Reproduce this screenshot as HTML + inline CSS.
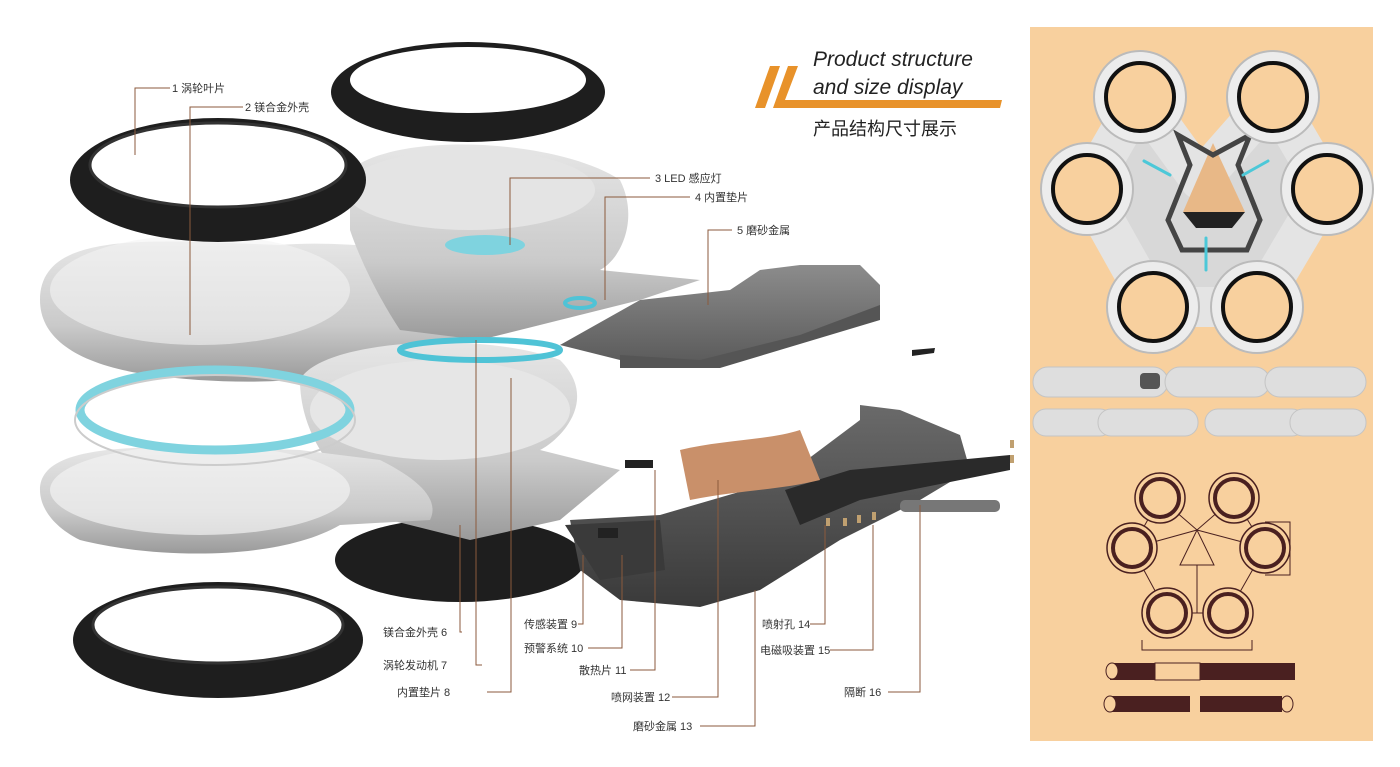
<!DOCTYPE html>
<html><head><meta charset="utf-8"><style>
html,body{margin:0;padding:0;background:#fff;width:1400px;height:767px;overflow:hidden}
svg{display:block}
text{font-family:"Liberation Sans","Noto Sans CJK SC",sans-serif;font-size:11px;fill:#333}
</style></head><body>
<svg width="1400" height="767" viewBox="0 0 1400 767" xmlns="http://www.w3.org/2000/svg">
<defs>
<linearGradient id="sil" x1="0" y1="0" x2="0" y2="1"><stop offset="0" stop-color="#e6e6e6"/><stop offset="0.6" stop-color="#cacaca"/><stop offset="1" stop-color="#9a9a9a"/></linearGradient>
<linearGradient id="dk" x1="0" y1="0" x2="0" y2="1"><stop offset="0" stop-color="#6a6a6a"/><stop offset="1" stop-color="#3a3a3a"/></linearGradient>
<linearGradient id="ds" x1="0" y1="0" x2="0" y2="1"><stop offset="0" stop-color="#8c8c8c"/><stop offset="1" stop-color="#5a5a5a"/></linearGradient>
</defs>

<rect x="1030" y="27" width="343" height="714" fill="#f8d09e"/>

<g>
<path d="M1140,97 L1200,180 L1273,97 L1327,189 L1257,307 L1153,307 L1087,189 Z" fill="#d8d8d8" stroke="#e4e4e4" stroke-width="40" stroke-linejoin="round"/>
<polygon points="1213,143 1183,212 1245,212" fill="#e8b887"/>
<polygon points="1183,212 1245,212 1232,228 1196,228" fill="#222"/>
<path d="M1178,135 L1213,155 L1250,135 L1238,165 L1260,220 L1247,250 L1182,250 L1168,220 L1190,165Z" fill="none" stroke="#444" stroke-width="5"/>
<g fill="#ececec" stroke="#bbb" stroke-width="2">
<circle cx="1140" cy="97" r="46"/><circle cx="1273" cy="97" r="46"/>
<circle cx="1087" cy="189" r="46"/><circle cx="1327" cy="189" r="46"/>
<circle cx="1153" cy="307" r="46"/><circle cx="1257" cy="307" r="46"/>
</g>
<g fill="#f8d09e" stroke="#111" stroke-width="4">
<circle cx="1140" cy="97" r="34"/><circle cx="1273" cy="97" r="34"/>
<circle cx="1087" cy="189" r="34"/><circle cx="1327" cy="189" r="34"/>
<circle cx="1153" cy="307" r="34"/><circle cx="1257" cy="307" r="34"/>
</g>
<g stroke="#4cc8d8" stroke-width="3" stroke-linecap="round">
<line x1="1144" y1="161" x2="1170" y2="175"/><line x1="1243" y1="175" x2="1268" y2="161"/><line x1="1206" y1="238" x2="1206" y2="270"/>
</g>
</g>
<g fill="#dedede" stroke="#c4c4c4">
<rect x="1033" y="367" width="135" height="30" rx="15"/><rect x="1165" y="367" width="105" height="30" rx="15"/><rect x="1265" y="367" width="101" height="30" rx="15"/>
<rect x="1033" y="409" width="80" height="27" rx="13"/><rect x="1098" y="409" width="100" height="27" rx="13"/><rect x="1205" y="409" width="100" height="27" rx="13"/><rect x="1290" y="409" width="76" height="27" rx="13"/>
</g>
<rect x="1140" y="373" width="20" height="16" rx="4" fill="#555"/>
<g stroke="#4a2020" fill="none" stroke-width="1">
<path d="M1160,498 L1132,548 L1167,613 L1228,613 L1265,548 L1234,498 L1197,530Z"/>
<polygon points="1197,530 1180,565 1214,565"/>
<line x1="1132" y1="548" x2="1197" y2="530"/><line x1="1265" y1="548" x2="1197" y2="530"/>
<line x1="1197" y1="565" x2="1197" y2="613"/>
<polyline points="1265,522 1290,522 1290,575 1265,575"/>
<polyline points="1142,640 1142,650 1252,650 1252,640"/>
</g>
<g fill="#f8d09e" stroke="#4a2020" stroke-width="1.5">
<circle cx="1160" cy="498" r="25"/><circle cx="1234" cy="498" r="25"/><circle cx="1132" cy="548" r="25"/><circle cx="1265" cy="548" r="25"/><circle cx="1167" cy="613" r="25"/><circle cx="1228" cy="613" r="25"/>
</g>
<g fill="#f8d09e" stroke="#4a2020" stroke-width="4">
<circle cx="1160" cy="498" r="19"/><circle cx="1234" cy="498" r="19"/><circle cx="1132" cy="548" r="19"/><circle cx="1265" cy="548" r="19"/><circle cx="1167" cy="613" r="19"/><circle cx="1228" cy="613" r="19"/>
</g>
<rect x="1110" y="663" width="185" height="17" fill="#4a2020"/>
<rect x="1155" y="663" width="45" height="17" fill="#f8d09e" stroke="#4a2020"/>
<ellipse cx="1112" cy="671" rx="6" ry="8" fill="#f8d09e" stroke="#4a2020"/>
<rect x="1110" y="696" width="150" height="16" fill="#4a2020"/>
<ellipse cx="1110" cy="704" rx="6" ry="8" fill="#f8d09e" stroke="#4a2020"/><ellipse cx="1287" cy="704" rx="6" ry="8" fill="#f8d09e" stroke="#4a2020"/>
<rect x="1190" y="696" width="10" height="16" fill="#f8d09e"/>
<rect x="1200" y="696" width="82" height="16" fill="#4a2020"/>

<polygon points="770,66 780,66 765,108 755,108" fill="#e8922a"/>
<polygon points="788,66 798,66 785,100 1002,100 1000,108 773,108" fill="#e8922a"/>
<text x="813" y="66" style="font-size:21px;font-style:italic;fill:#222">Product structure</text>
<text x="813" y="94" style="font-size:21px;font-style:italic;fill:#222">and size display</text>
<text x="813" y="135" style="font-size:18px;fill:#222">产品结构尺寸展示</text>

<!-- bottom center ring (behind) -->
<ellipse cx="460" cy="560" rx="125" ry="42" fill="#1e1e1e"/>

<!-- silver shells -->
<path d="M40,300 C40,230 150,240 280,245 C340,240 420,250 460,260 L640,300 L520,300 L470,340 C380,380 260,390 150,375 C80,365 40,340 40,300Z" fill="url(#sil)"/>
<ellipse cx="200" cy="290" rx="150" ry="55" fill="#f4f4f4" opacity="0.6"/>
<path d="M350,170 C400,130 560,140 620,180 C640,220 620,260 600,270 L700,280 L640,300 L560,320 L480,340 L400,330 C380,300 360,260 350,230Z" fill="url(#sil)"/>
<ellipse cx="470" cy="190" rx="125" ry="40" fill="#e4e4e4"/>
<path d="M300,380 C320,340 480,330 560,360 C600,400 560,440 540,450 L620,470 L560,520 L470,540 L390,520 C330,480 300,430 300,380Z" fill="url(#sil)"/>
<ellipse cx="440" cy="410" rx="130" ry="50" fill="#e6e6e6"/>
<path d="M40,490 C40,440 150,445 300,450 L380,460 C420,480 440,500 430,520 L340,525 C280,560 160,560 80,540 C50,525 40,505 40,490Z" fill="url(#sil)"/>
<ellipse cx="200" cy="490" rx="150" ry="45" fill="#f2f2f2" opacity="0.7"/>

<ellipse cx="215" cy="410" rx="135" ry="40" fill="none" stroke="#7fd3df" stroke-width="9"/>
<ellipse cx="215" cy="420" rx="140" ry="45" fill="none" stroke="#ccc" stroke-width="2"/>
<ellipse cx="485" cy="245" rx="40" ry="10" fill="#7fd3df"/>
<ellipse cx="480" cy="350" rx="80" ry="10" fill="none" stroke="#4fc3d6" stroke-width="6"/>
<ellipse cx="580" cy="303" rx="15" ry="5" fill="none" stroke="#4fc3d6" stroke-width="4"/>

<g>
<ellipse cx="218" cy="180" rx="148" ry="62" fill="#1e1e1e"/>
<ellipse cx="218" cy="165" rx="128" ry="42" fill="#fff"/>
<ellipse cx="218" cy="165" rx="128" ry="42" fill="none" stroke="#333" stroke-width="3"/>
<ellipse cx="468" cy="92" rx="137" ry="50" fill="#1e1e1e"/>
<ellipse cx="468" cy="80" rx="118" ry="33" fill="#fff"/>
<ellipse cx="218" cy="640" rx="145" ry="58" fill="#1e1e1e"/>
<ellipse cx="218" cy="625" rx="125" ry="38" fill="#fff"/>
<ellipse cx="218" cy="625" rx="125" ry="38" fill="none" stroke="#333" stroke-width="3"/>
</g>

<path d="M560,345 L640,300 L730,290 L760,270 L800,265 L860,265 L880,285 L880,310 L800,340 L700,365 L620,360 Z" fill="url(#ds)"/>
<path d="M620,355 L700,360 L800,335 L880,305 L880,320 L720,368 L620,368Z" fill="#555"/>
<path d="M912,350 L935,348 L934,353 L912,356Z" fill="#222"/>
<path d="M570,520 L660,515 L780,480 L860,420 L860,405 L900,410 L960,435 L970,470 L920,500 L840,540 L760,590 L700,607 L620,600 L580,570Z" fill="url(#dk)"/>
<path d="M565,525 L660,520 L665,570 L600,580Z" fill="#3a3a3a"/>
<path d="M785,490 L850,470 L1010,455 L1010,470 L860,500 L800,525Z" fill="#2a2a2a"/>
<rect x="900" y="500" width="100" height="12" rx="5" fill="#777"/>
<path d="M680,450 C720,440 770,440 800,430 L820,480 C780,490 740,490 690,500Z" fill="#c9906a"/>
<rect x="625" y="460" width="28" height="8" fill="#222"/>
<rect x="598" y="528" width="20" height="10" fill="#222"/>
<g fill="#c0a070"><rect x="826" y="518" width="4" height="8"/><rect x="843" y="518" width="4" height="8"/><rect x="857" y="515" width="4" height="8"/><rect x="872" y="512" width="4" height="8"/><rect x="1010" y="440" width="4" height="8"/><rect x="1010" y="455" width="4" height="8"/></g>

<g stroke="#8b5a3c" fill="none" stroke-width="1">
<polyline points="170,88 135,88 135,155"/>
<polyline points="243,107 190,107 190,335"/>
<polyline points="650,178 510,178 510,245"/>
<polyline points="690,197 605,197 605,300"/>
<polyline points="732,230 708,230 708,305"/>
<polyline points="462,632 460,632 460,525"/>
<polyline points="482,665 476,665 476,340"/>
<polyline points="487,692 511,692 511,378"/>
<polyline points="578,624 583,624 583,555"/>
<polyline points="588,648 622,648 622,555"/>
<polyline points="630,670 655,670 655,470"/>
<polyline points="672,697 718,697 718,480"/>
<polyline points="700,726 755,726 755,590"/>
<polyline points="810,624 825,624 825,525"/>
<polyline points="830,650 873,650 873,525"/>
<polyline points="888,692 920,692 920,505"/>
</g>
<text x="172" y="92">1 涡轮叶片</text>
<text x="245" y="111">2 镁合金外壳</text>
<text x="655" y="182">3 LED 感应灯</text>
<text x="695" y="201">4 内置垫片</text>
<text x="737" y="234">5 磨砂金属</text>
<text x="383" y="636">镁合金外壳 6</text>
<text x="383" y="669">涡轮发动机 7</text>
<text x="397" y="696">内置垫片 8</text>
<text x="524" y="628">传感装置 9</text>
<text x="524" y="652">预警系统 10</text>
<text x="579" y="674">散热片 11</text>
<text x="611" y="701">喷网装置 12</text>
<text x="633" y="730">磨砂金属 13</text>
<text x="762" y="628">喷射孔 14</text>
<text x="760" y="654">电磁吸装置 15</text>
<text x="844" y="696">隔断 16</text>
</svg>
</body></html>
